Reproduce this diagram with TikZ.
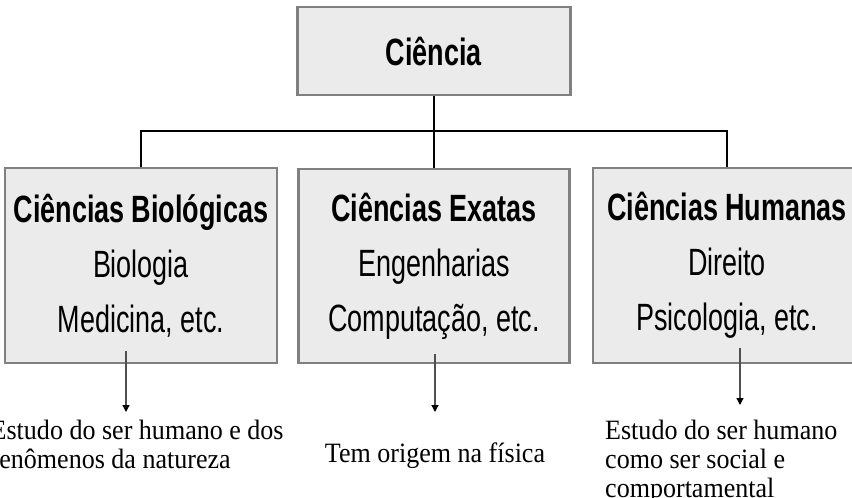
\documentclass[tikz,border=0pt]{standalone}
\usepackage{fontspec}
\setmainfont{Liberation Serif}
\newfontfamily\narrowsans[FakeStretch=0.71]{Liberation Sans}
\newfontfamily\notaserif[FakeStretch=0.93]{Liberation Serif}
\usepackage{tikz}
\usetikzlibrary{positioning, arrows.meta}
\definecolor{boxfill}{RGB}{235,235,235}
\definecolor{boxline}{RGB}{128,128,128}
\definecolor{setacor}{RGB}{80,80,80}

\begin{document}
\begin{tikzpicture}[x=1pt,y=-1pt,
    caixa/.style={draw=boxline, fill=boxfill, line width=2.5pt, align=center, inner sep=0pt,
      font=\narrowsans\fontsize{38}{55}\selectfont},
    liga/.style={black, line width=2.8pt},
    seta/.style={setacor, line width=1.3pt, -{Triangle[length=7pt,width=7pt,color=black]}},
    nota/.style={inner sep=0pt, align=left, font=\notaserif\fontsize{28}{29}\selectfont}]
    \useasboundingbox (0,0) rectangle (852,498);
    \clip (0,0) rectangle (852,498);

    % caixas
    \node[caixa, minimum width=273pt, minimum height=88pt] (ciencia) at (434,51) {\textbf{Ciência}};
    \node[caixa, minimum width=272pt, minimum height=195pt] (bio) at (141,265.5)
      {\textbf{Ciências Biológicas}\\Biologia\\Medicina, etc.};
    \node[caixa, minimum width=271pt, minimum height=194pt] (exatas) at (434,266)
      {\textbf{Ciências Exatas}\\Engenharias\\Computação, etc.};
    \node[caixa, minimum width=268pt, minimum height=195pt] (humanas) at (727,265.5)
      {\textbf{Ciências Humanas}\\Direito\\Psicologia, etc.};

    % ligacoes
    \coordinate (barra) at (434,131);
    \draw[liga] (ciencia.south) -- (barra);
    \draw[liga] (bio.north) |- (barra) -| (humanas.north);
    \draw[liga] (barra) -- (exatas.north);

    % notas
    \node[nota, anchor=north west] (txtbio) at (-9.5,420) {Estudo do ser humano e dos\\fenômenos da natureza};
    \node[nota, anchor=north] (txtexatas) at (435,443) {Tem origem na física};
    \node[nota, anchor=north west] (txthumanas) at (605,420) {Estudo do ser humano\\como ser social e\\comportamental};

    \coordinate (p1) at (126,412);
    \coordinate (p2) at (435,412);
    \coordinate (p3) at (740,405);
    \draw[seta] (p1 |- bio.south) ++(0,-13) -- (p1);
    \draw[seta] (p2 |- exatas.south) ++(0,-10) -- (p2);
    \draw[seta] (p3 |- humanas.south) ++(0,-16) -- (p3);
  \end{tikzpicture}
\end{document}
